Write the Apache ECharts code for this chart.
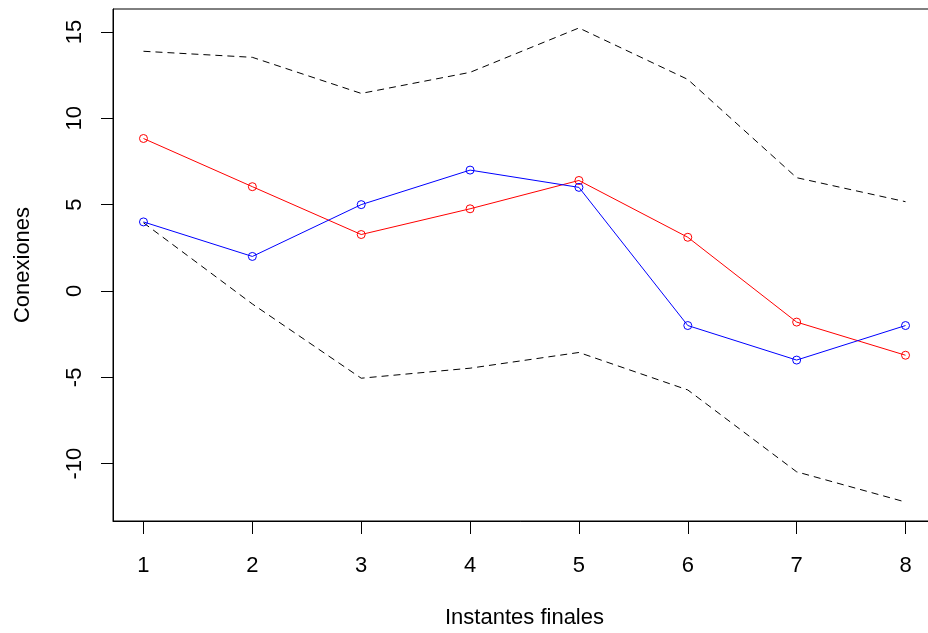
<!DOCTYPE html>
<html>
<head>
<meta charset="utf-8">
<title>Conexiones por instante final</title>
<script src="https://cdn.jsdelivr.net/npm/echarts@6/dist/echarts.min.js"></script>
<style>
  html, body { margin: 0; padding: 0; background: #fff; }
  #chart { width: 928px; height: 633px; }
</style>
</head>
<body>
<div id="chart"></div>
<script>
// Instantes finales (eje X)
const instantes = [1, 2, 3, 4, 5, 6, 7, 8];
// Serie roja
const serieRoja = [8.83, 6.04, 3.27, 4.76, 6.40, 3.11, -1.80, -3.72];
// Serie azul
const serieAzul = [4, 2, 5, 7, 6, -2, -4, -2];
// Banda: límite superior e inferior (discontinuas)
const limiteSup = [13.88, 13.53, 11.44, 12.66, 15.23, 12.25, 6.56, 5.17];
const limiteInf = [3.95, -0.75, -5.05, -4.47, -3.56, -5.73, -10.47, -12.22];
// Marcas de los ejes
const ticksX = [1, 2, 3, 4, 5, 6, 7, 8];
const ticksY = [-10, -5, 0, 5, 10, 15];

// Rango de ejes extendido un 4 % a cada lado
function rango(vals) {
  const lo = Math.min(...vals), hi = Math.max(...vals);
  const d = (hi - lo) * 0.04;
  return [lo - d, hi + d];
}
const [xMin, xMax] = rango(instantes);
const [yMin, yMax] = rango([...serieRoja, ...serieAzul, ...limiteSup, ...limiteInf]);

const font = 'Liberation Sans, Arial, sans-serif';
const pares = ys => instantes.map((x, i) => [x, ys[i]]);

function linea(nombre, ys, color, dashed) {
  return {
    name: nombre,
    type: 'line',
    data: pares(ys),
    symbol: dashed ? 'none' : 'circle',
    symbolSize: 8,
    showSymbol: !dashed,
    lineStyle: { color: color, width: 1, type: dashed ? [7, 5] : 'solid' },
    itemStyle: { color: 'rgba(0,0,0,0)', borderColor: color, borderWidth: 1 },
    emphasis: { disabled: true },
    animation: false,
    z: dashed ? 1 : 2
  };
}

const chart = echarts.init(document.getElementById('chart'), null, { renderer: 'canvas' });
chart.setOption({
  backgroundColor: '#fff',
  animation: false,
  grid: {
    left: 113, top: 9, width: 823, height: 512,
    outerBoundsMode: 'none',
    containLabel: false,
    show: true, borderColor: '#000', borderWidth: 1, backgroundColor: 'transparent'
  },
  xAxis: {
    type: 'value',
    min: xMin, max: xMax,
    name: 'Instantes finales',
    nameLocation: 'middle',
    nameGap: 86,
    nameTextStyle: { fontFamily: font, fontSize: 22, color: '#000' },
    axisLine: { show: true, onZero: false, lineStyle: { color: '#000', width: 1 } },
    axisTick: { show: true, inside: false, length: 13, customValues: ticksX, lineStyle: { color: '#000' } },
    axisLabel: { customValues: ticksX, margin: 34, fontFamily: font, fontSize: 22, color: '#000' },
    splitLine: { show: false }
  },
  yAxis: {
    type: 'value',
    min: yMin, max: yMax,
    name: 'Conexiones',
    nameLocation: 'middle',
    nameGap: 79,
    nameRotate: 90,
    nameTextStyle: { fontFamily: font, fontSize: 22, color: '#000' },
    axisLine: { show: true, onZero: false, lineStyle: { color: '#000', width: 1 } },
    axisTick: { show: true, inside: false, length: 12, customValues: ticksY, lineStyle: { color: '#000' } },
    axisLabel: { customValues: ticksY, rotate: 90, margin: 27, fontFamily: font, fontSize: 22, color: '#000' },
    splitLine: { show: false }
  },
  series: [
    linea('Límite superior', limiteSup, '#000', true),
    linea('Límite inferior', limiteInf, '#000', true),
    linea('Serie roja', serieRoja, '#ff0000', false),
    linea('Serie azul', serieAzul, '#0000ff', false)
  ]
});
</script>
</body>
</html>
